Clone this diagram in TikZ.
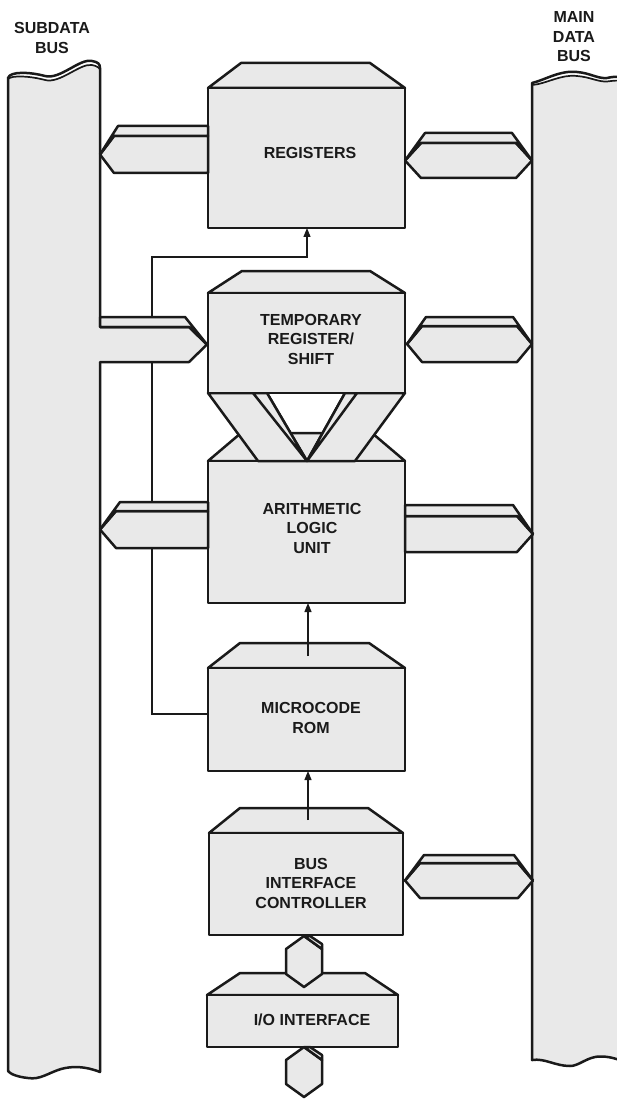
\documentclass[tikz,border=0pt]{standalone}
\usepackage{fontspec}
\setmainfont{Liberation Sans}
\usetikzlibrary{arrows.meta}
\definecolor{gfill}{HTML}{E9E9E9}
\definecolor{inkc}{HTML}{1A1A1A}
\tikzset{
  boxline/.style={draw=inkc, fill=gfill, line width=2.5pt, line join=round},
  edgeline/.style={draw=inkc, line width=2.5pt, line cap=round, line join=round},
  thinline/.style={draw=inkc, line width=1.2pt},
  ctrlarrow/.style={thinline, -{Triangle[length=9pt,width=7pt]}},
  lbl/.style={font=\fontsize{16}{19.5}\selectfont\bfseries, text=inkc, align=center, inner sep=0pt},
}
% block with bevelled cap: xl xr captop fronttop bottom capxl capxr
\newcommand{\cpublock}[7]{%
  \filldraw[boxline] (#1,#4) -- (#6,#3) -- (#7,#3) -- (#2,#4) -- cycle;
  \filldraw[boxline] (#1,#4) rectangle (#2,#5);
}
% double tipped connector: xl xr ytop ybottom tiplength thickness
\newcommand{\connLR}[6]{%
  \pgfmathsetmacro{\hxM}{(#3+#4)/2}%
  \pgfmathsetmacro{\hxA}{#1+#5}\pgfmathsetmacro{\hxB}{#2-#5}%
  \pgfmathsetmacro{\hxC}{#1+#5+4}\pgfmathsetmacro{\hxD}{#2-#5-4}%
  \pgfmathsetmacro{\hxT}{#3-#6}%
  \filldraw[boxline] (#1,\hxM) -- (\hxA,#3) -- (\hxB,#3) -- (#2,\hxM) -- (\hxB,#4) -- (\hxA,#4) -- cycle;
  \filldraw[boxline] (#1,\hxM) -- (\hxC,\hxT) -- (\hxD,\hxT) -- (#2,\hxM) -- (\hxB,#3) -- (\hxA,#3) -- cycle;
}
% tip on the left only
\newcommand{\connL}[6]{%
  \pgfmathsetmacro{\hxM}{(#3+#4)/2}%
  \pgfmathsetmacro{\hxA}{#1+#5}\pgfmathsetmacro{\hxC}{#1+#5+4}%
  \pgfmathsetmacro{\hxT}{#3-#6}%
  \filldraw[boxline] (#1,\hxM) -- (\hxA,#3) -- (#2,#3) -- (#2,#4) -- (\hxA,#4) -- cycle;
  \filldraw[boxline] (#1,\hxM) -- (\hxC,\hxT) -- (#2,\hxT) -- (#2,#3) -- (\hxA,#3) -- cycle;
}
% tip on the right only
\newcommand{\connR}[6]{%
  \pgfmathsetmacro{\hxM}{(#3+#4)/2}%
  \pgfmathsetmacro{\hxB}{#2-#5}\pgfmathsetmacro{\hxD}{#2-#5-4}%
  \pgfmathsetmacro{\hxT}{#3-#6}%
  \filldraw[boxline] (#1,#3) -- (\hxB,#3) -- (#2,\hxM) -- (\hxB,#4) -- (#1,#4) -- cycle;
  \filldraw[boxline] (#1,\hxT) -- (\hxD,\hxT) -- (#2,\hxM) -- (\hxB,#3) -- (#1,#3) -- cycle;
}
% vertical connector: xc ytop ybottom halfwidth tiplength
\newcommand{\connV}[5]{%
  \pgfmathsetmacro{\hxL}{#1-#4}\pgfmathsetmacro{\hxR}{#1+#4}%
  \pgfmathsetmacro{\hxU}{#2+#5}\pgfmathsetmacro{\hxW}{#3-#5}%
  \pgfmathsetmacro{\hxS}{#2+#5-5}\pgfmathsetmacro{\hxQ}{#1+6}%
  \filldraw[boxline] (#1,#2) -- (\hxR,\hxU) -- (\hxR,\hxW) -- (#1,#3) -- (\hxL,\hxW) -- (\hxL,\hxU) -- cycle;
  \filldraw[boxline] (#1,#2) -- (\hxQ,#2) -- (\hxR,\hxS) -- (\hxR,\hxU) -- cycle;
}
\begin{document}
\begin{tikzpicture}[x=1pt,y=-1pt]
\useasboundingbox (0,0) rectangle (617,1099);
\fill[white] (0,0) rectangle (617,1099);

% ---------------- subdata bus (left)
\fill[gfill] (8,78) .. controls (10,71) and (30,72) .. (45,76) .. controls (60,80) and (80,58) .. (92,61) .. controls (98,62) and (100,64) .. (100,68)
  -- (100,1072) .. controls (85,1066) and (72,1066) .. (61,1069) .. controls (48,1073) and (40,1080) .. (28,1078) .. controls (18,1077) and (10,1074) .. (8,1071) -- cycle;
\fill[white] (8,78) .. controls (10,71) and (30,72) .. (45,76) .. controls (60,80) and (80,58) .. (92,61) .. controls (98,62) and (100,64) .. (100,68)
  -- (100,70) .. controls (97,67) and (94,65) .. (92,65) .. controls (80,63) and (60,84) .. (45,80) .. controls (30,76) and (12,75) .. (8,79) -- cycle;
\draw[edgeline] (8,1071) -- (8,78) .. controls (10,71) and (30,72) .. (45,76) .. controls (60,80) and (80,58) .. (92,61) .. controls (98,62) and (100,64) .. (100,68) -- (100,327);
\draw[thinline, line width=1.7pt] (8,79) .. controls (12,75) and (30,76) .. (45,80) .. controls (60,84) and (80,63) .. (92,65) .. controls (97,66) and (100,68) .. (100,70);
\draw[edgeline] (100,362) -- (100,1072) .. controls (85,1066) and (72,1066) .. (61,1069) .. controls (48,1073) and (40,1080) .. (28,1078) .. controls (18,1077) and (10,1074) .. (8,1071);

% ---------------- main data bus (right)
\fill[gfill] (532,83) .. controls (545,80) and (560,70) .. (577,72) .. controls (590,73) and (598,79) .. (607,78) .. controls (612,77) and (616,76) .. (622,78)
  -- (622,1061) .. controls (610,1056) and (600,1056) .. (595,1057) .. controls (585,1059) and (578,1066) .. (570,1066) .. controls (555,1066) and (545,1058) .. (532,1060) -- cycle;
\fill[white] (532,83) .. controls (545,80) and (560,70) .. (577,72) .. controls (590,73) and (598,79) .. (607,78) .. controls (612,77) and (616,76) .. (622,78)
  -- (622,81) .. controls (616,80) and (612,81) .. (607,81.5) .. controls (598,82) and (590,77) .. (577,76) .. controls (561,74) and (546,84) .. (532,85) -- cycle;
\draw[edgeline] (532,1060) -- (532,83) .. controls (545,80) and (560,70) .. (577,72) .. controls (590,73) and (598,79) .. (607,78) .. controls (612,77) and (616,76) .. (622,78);
\draw[thinline, line width=1.7pt] (532,85) .. controls (546,84) and (561,74) .. (577,76) .. controls (590,77) and (598,82) .. (607,81.5) .. controls (612,81) and (616,80) .. (622,81);
\draw[edgeline] (532,1060) .. controls (545,1058) and (555,1066) .. (570,1066) .. controls (578,1066) and (585,1059) .. (595,1057) .. controls (600,1056) and (610,1056) .. (622,1061);

% ---------------- control lines (beneath)
\coordinate (romW) at (208,714);
\coordinate (ctlCorner) at (152,257);
\coordinate (regS) at (307,228);
\draw[ctrlarrow] (romW) -| (ctlCorner) -| (regS);

% ---------------- blocks
\cpublock{208}{405}{63}{88}{228}{241}{370}      % registers
\cpublock{208}{405}{433}{461}{603}{241}{372}    % ALU
% crossed links between temporary register and ALU
\filldraw[boxline] (208,393) -- (267,393) -- (307,461) -- (258,461) -- cycle;
\filldraw[boxline] (253,393) -- (267,393) -- (307,461) -- cycle;
\filldraw[boxline] (405,393) -- (345,393) -- (307,461) -- (355,461) -- cycle;
\filldraw[boxline] (357,393) -- (345,393) -- (307,461) -- cycle;
\cpublock{208}{405}{271}{293}{393}{242}{370}    % temporary register
\cpublock{208}{405}{643}{668}{771}{240}{369}    % microcode ROM
\cpublock{209}{403}{808}{833}{935}{240}{368}    % bus interface controller
\cpublock{207}{398}{973}{995}{1047}{240}{365}   % I/O interface

% ---------------- bus connectors
\connL{100}{208}{136}{173}{14}{10}      % registers - subdata
\connLR{405}{532}{143}{178}{16}{10}     % registers - main
\connLR{407}{532}{326}{362}{15}{9}      % temp - main
\connL{100}{208}{511}{548}{16}{9}       % ALU - subdata
\connR{405}{533}{516}{552}{16}{11}      % ALU - main
\connLR{405}{533}{863}{898}{15}{8}      % BIC - main
% temp register - subdata (merged into the bus)
\fill[gfill] (96,327) -- (189,327) -- (207,344.5) -- (189,362) -- (96,362) -- cycle;
\filldraw[boxline] (100,317) -- (185,317) -- (207,344.5) -- (189,327) -- (100,327) -- cycle;
\draw[edgeline] (100,327) -- (189,327) -- (207,344.5) -- (189,362) -- (100,362);

% vertical connectors
\connV{304}{936}{987}{18}{13}
\connV{304}{1047}{1097}{18}{13}

% ---------------- control arrows
\coordinate (romCap) at (308,656);
\coordinate (aluS) at (308,603);
\coordinate (bicCap) at (308,820);
\coordinate (romS) at (308,771);
\draw[ctrlarrow] (romCap) -- (aluS);
\draw[ctrlarrow] (bicCap) -- (romS);

% ---------------- labels
\node[lbl] (tReg) at (310,153) {REGISTERS};
\node[lbl] (tTmp) at (311,339) {TEMPORARY\\REGISTER/\\SHIFT};
\node[lbl] (tAlu) at (312,528) {ARITHMETIC\\LOGIC\\UNIT};
\node[lbl] (tRom) at (311,718) {MICROCODE\\ROM};
\node[lbl] (tBic) at (311,883) {BUS\\INTERFACE\\CONTROLLER};
\node[lbl] (tIo) at (312,1020) {I/O INTERFACE};
\node[lbl] (tSub) at (52,38) {SUBDATA\\BUS};
\node[lbl] (tMain) at (574,37) {MAIN\\DATA\\BUS};
\end{tikzpicture}
\end{document}
